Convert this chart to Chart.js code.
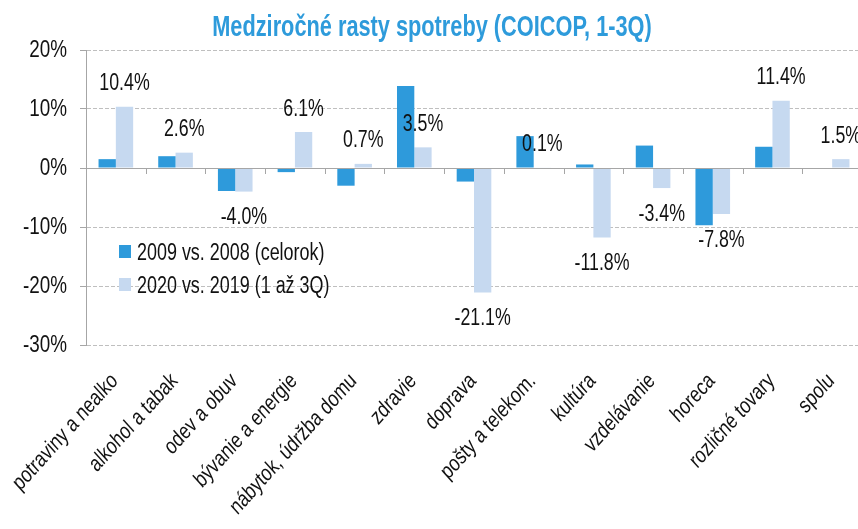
<!DOCTYPE html>
<html lang="sk">
<head>
    <meta charset="UTF-8">
    <title>Medziročné rasty spotreby</title>
    <script src="https://cdn.jsdelivr.net/npm/chart.js"></script>
    <style>
        html, body { margin: 0; padding: 0; background: #fff; overflow: hidden; }
        #wrap { position: relative; width: 864px; height: 529px; }
    </style>
</head>
<body>
    <div id="wrap"><canvas id="chart"></canvas></div>

    <script>
        // Data
        const categories = ['potraviny a nealko', 'alkohol a tabak', 'odev a obuv', 'bývanie a energie',
            'nábytok, údržba domu', 'zdravie', 'doprava', 'pošty a telekom.', 'kultúra',
            'vzdelávanie', 'horeca', 'rozličné tovary', 'spolu'];
        const values2009 = [1.5, 2.0, -3.9, -0.7, -3.0, 13.9, -2.3, 5.4, 0.6, 3.8, -9.7, 3.6, null];
        const values2020 = [10.4, 2.6, -4.0, 6.1, 0.7, 3.5, -21.1, 0.1, -11.8, -3.4, -7.8, 11.4, 1.5];
        const seriesNames = ['2009 vs. 2008 (celorok)', '2020 vs. 2019 (1 až 3Q)'];
        const titleText = 'Medziročné rasty spotreby (COICOP, 1-3Q)';
        const yMin = -30, yMax = 20, yStep = 10;

        // no narrow font installed, so text is squeezed horizontally when drawn
        const FONT = '"Liberation Sans Narrow", "Arial Narrow", "Liberation Sans", Arial, sans-serif';
        const colors = ['#2E9ADB', '#C6D9F0'];
        const gridColor = '#BFBFBF';
        const axisColor = '#A6A6A6';
        const textColor = '#111';

        function squeezed(ctx, text, x, y, sx) {
            ctx.save();
            ctx.translate(x, y);
            ctx.scale(sx, 1);
            ctx.fillText(text, 0, 0);
            ctx.restore();
        }

        // the picture is squeezed sideways, so the 45 degree labels lean a bit steeper
        function slanted(ctx, text, x, y) {
            ctx.save();
            ctx.translate(x, y);
            ctx.scale(0.9, 1);
            ctx.rotate(-Math.PI / 4);
            ctx.scale(0.83, 1);
            ctx.fillText(text, 0, 0);
            ctx.restore();
        }

        // title, legend, axis texts, zero axis with category ticks, value labels
        const extras = {
            id: 'extras',
            afterDatasetsDraw(chart) {
                const ctx = chart.ctx;
                const area = chart.chartArea;
                const xs = chart.scales.x, ys = chart.scales.y;
                const y0 = ys.getPixelForValue(0);
                ctx.save();

                // zero line + category boundary ticks
                ctx.strokeStyle = axisColor;
                ctx.lineWidth = 1;
                ctx.beginPath();
                ctx.moveTo(area.left, Math.round(y0) + 0.5);
                ctx.lineTo(area.right, Math.round(y0) + 0.5);
                const step = (area.right - area.left) / categories.length;
                for (let i = 1; i < categories.length; i++) {
                    const px = Math.round(area.left + i * step) + 0.5;
                    ctx.moveTo(px, y0);
                    ctx.lineTo(px, y0 + 6);
                }
                ctx.stroke();

                ctx.fillStyle = textColor;

                // y tick labels
                ctx.font = '23px ' + FONT;
                ctx.textAlign = 'right';
                ctx.textBaseline = 'middle';
                for (let v = yMin; v <= yMax; v += yStep) {
                    squeezed(ctx, v + '%', area.left - 19, ys.getPixelForValue(v) + 1, 0.82);
                }

                // x category labels
                ctx.textBaseline = 'alphabetic';
                categories.forEach((c, i) => {
                    slanted(ctx, c, xs.getPixelForValue(i) + 3, area.bottom + 37);
                });

                // value labels for the 2020 series
                ctx.font = '24px ' + FONT;
                ctx.textAlign = 'center';
                ctx.textBaseline = 'middle';
                chart.getDatasetMeta(1).data.forEach((bar, i) => {
                    const v = values2020[i];
                    const ty = v >= 0 ? bar.y - 23 : bar.y + 26;
                    squeezed(ctx, v.toFixed(1) + '%', bar.x, ty, 0.74);
                });

                // title
                ctx.font = 'bold 29px ' + FONT;
                ctx.fillStyle = '#2E9BDB';
                ctx.textBaseline = 'alphabetic';
                squeezed(ctx, titleText, 432, 36, 0.75);

                // legend
                ctx.font = '23px ' + FONT;
                ctx.textAlign = 'left';
                const legendY = [260, 293];
                seriesNames.forEach((name, i) => {
                    ctx.fillStyle = colors[i];
                    ctx.fillRect(119, legendY[i] - 15, 12, 13);
                    ctx.fillStyle = textColor;
                    squeezed(ctx, name, 137, legendY[i], 0.78);
                });
                ctx.restore();
            }
        };

        new Chart(document.getElementById('chart'), {
            type: 'bar',
            data: {
                labels: categories,
                datasets: [
                    { label: seriesNames[0], data: values2009, backgroundColor: colors[0] },
                    { label: seriesNames[1], data: values2020, backgroundColor: colors[1] }
                ]
            },
            options: {
                responsive: true,
                maintainAspectRatio: false,
                animation: false,
                datasets: { bar: { categoryPercentage: 0.58, barPercentage: 1 } },
                layout: { padding: { top: 50, right: 2, left: 0, bottom: 0 } },
                plugins: {
                    legend: { display: false },
                    title: { display: false },
                    tooltip: { enabled: false }
                },
                scales: {
                    x: {
                        grid: { display: false, drawTicks: false },
                        border: { display: false },
                        ticks: { display: false },
                        afterFit(scale) { scale.height = 184; }
                    },
                    y: {
                        min: yMin,
                        max: yMax,
                        ticks: { display: false, stepSize: yStep },
                        grid: {
                            color: c => (c.tick && c.tick.value === 0) ? 'rgba(0,0,0,0)' : gridColor,
                            tickColor: axisColor,
                            tickLength: 6
                        },
                        border: { display: true, color: axisColor, dash: [4, 2] },
                        afterFit(scale) { scale.width = 86; }
                    }
                }
            },
            plugins: [extras]
        });
    </script>
</body>
</html>
